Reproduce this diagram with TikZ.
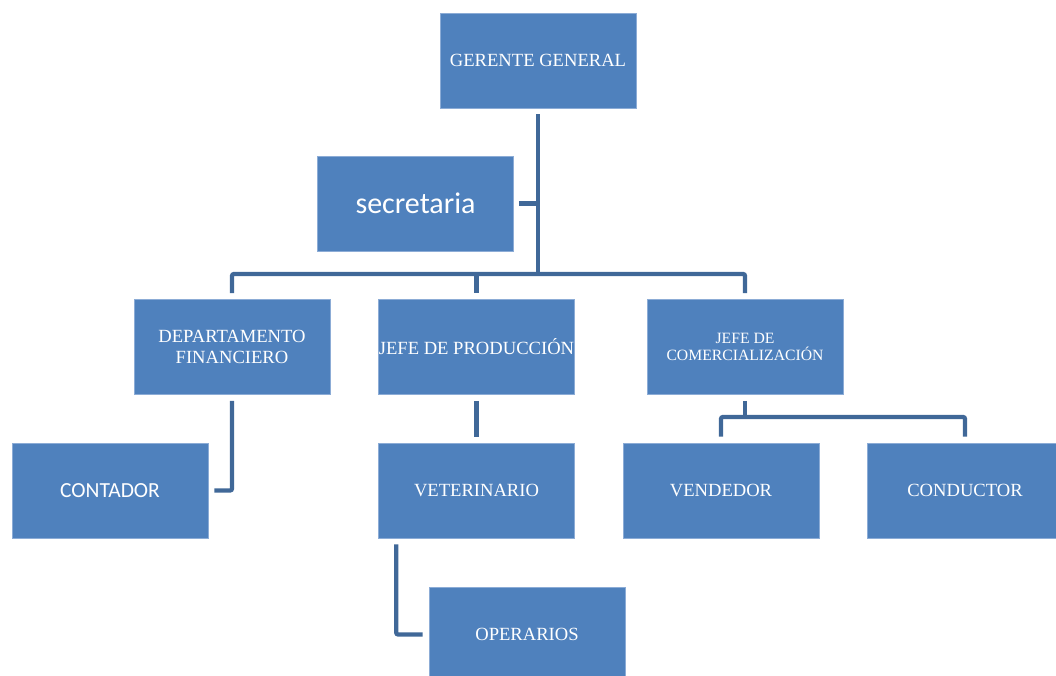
\documentclass[tikz,border=0pt]{standalone}
\usepackage{fontspec}
\setmainfont{Liberation Serif}
\newfontfamily\calibri{Carlito}
\usepackage{tikz}
\usetikzlibrary{calc}
\definecolor{boxblue}{RGB}{79,129,189}
\definecolor{boxedge}{RGB}{140,172,214}
\definecolor{linkblue}{RGB}{64,104,152}

\begin{document}
\begin{tikzpicture}[x=1pt, y=1pt,
  unit/.style={rectangle, fill=boxblue, draw=boxedge, line width=0.6pt,
    minimum width=196pt, minimum height=95pt, inner sep=0pt, text=white,
    align=center, font=\fontsize{18.6}{20.5}\selectfont},
  link/.style={draw=linkblue, line width=4.3pt, rounded corners=2pt}]
\useasboundingbox (0,0) rectangle (1056,-675);

% top
\node[unit] (gg) at (538,-60.5) {GERENTE GENERAL};
\node[unit, font=\calibri\fontsize{30}{32}\selectfont] (sec) at (415.5,-203.5) {secretaria};

% second level
\node[unit] (df) at (232,-347) {DEPARTAMENTO\\FINANCIERO};
\node[unit] (jp) at (476.5,-347) {JEFE DE PRODUCCIÓN};
\node[unit, font=\fontsize{15.7}{16.5}\selectfont] (jc) at (745,-347) {JEFE DE\\COMERCIALIZACIÓN};

% third level
\node[unit, font=\calibri\fontsize{21.5}{23}\selectfont] (cont) at (110,-490.5) {CONTADOR};
\node[unit] (vet) at (476.5,-490.5) {VETERINARIO};
\node[unit] (vend) at (721,-490.5) {VENDEDOR};
\node[unit] (cond) at (965,-490.5) {CONDUCTOR};
\node[unit] (op) at (527,-634.5) {OPERARIOS};

\coordinate (bus) at (538,-274);
\coordinate (cbus) at (745,-417);

% connectors
\draw[link, shorten <=6pt] (gg.south) -- (gg.south |- bus);
\draw[link, shorten <=5pt] (sec.east) -- (sec.east -| gg.south);
\draw[link, shorten <=6pt, shorten >=6pt] (df.north) |- (bus) -| (jc.north);
\draw[link, shorten >=6pt] (bus -| jp.north) -- (jp.north);
\draw[link, shorten <=6pt, shorten >=6pt] (df.south) |- (cont.east);
\draw[link, shorten <=6pt, shorten >=6pt] (jp.south) -- (vet.north);
\draw[link, shorten <=6pt] (jc.south) -- (cbus);
\draw[link, shorten <=6pt, shorten >=6pt] (vend.north) |- (cbus) -| (cond.north);
\draw[link, shorten <=6pt, shorten >=6pt] ([xshift=18pt]vet.south west) |- (op.west);
\end{tikzpicture}
\end{document}
